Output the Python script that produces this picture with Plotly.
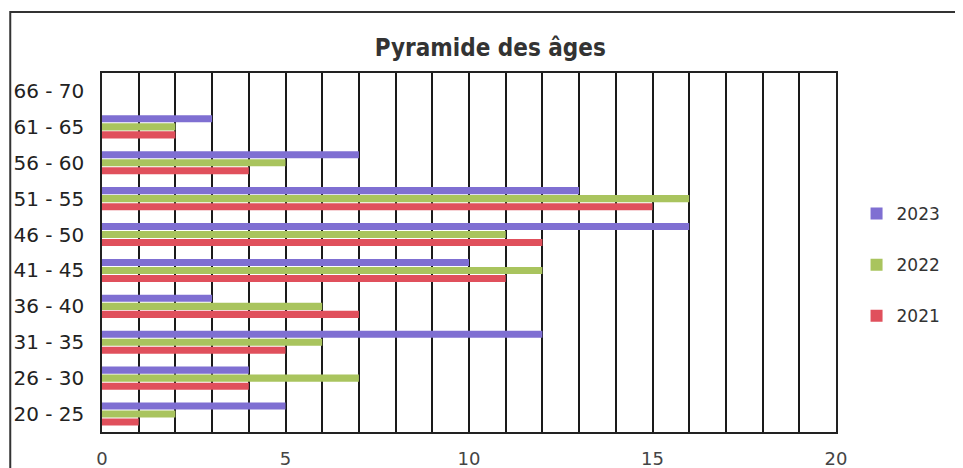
import plotly.graph_objects as go

# tranches d'âge et effectifs par année
tranches = ['20 - 25', '26 - 30', '31 - 35', '36 - 40', '41 - 45',
            '46 - 50', '51 - 55', '56 - 60', '61 - 65', '66 - 70']
annees = ['2021', '2022', '2023']
val_2021 = [1, 4, 5, 7, 11, 12, 15, 4, 2, 0]
val_2022 = [2, 7, 6, 6, 12, 11, 16, 5, 2, 0]
val_2023 = [5, 4, 12, 3, 10, 16, 13, 7, 3, 0]
x_ticks = [0, 5, 10, 15, 20]

couleurs = {'2021': '#E0505C', '2022': '#A9C45E', '2023': '#7F6FD2'}
valeurs = {'2021': val_2021, '2022': val_2022, '2023': val_2023}
rang = {'2023': 1, '2022': 2, '2021': 3}

fig = go.Figure()
for an in annees:
    fig.add_trace(go.Bar(
        y=tranches,
        x=valeurs[an],
        name=an,
        orientation='h',
        legendgroup=an,
        legendrank=rang[an],
        marker=dict(color=couleurs[an], line=dict(width=0)),
    ))

fig.update_layout(
    width=955, height=460,
    margin=dict(l=94, r=127, t=65, b=36, autoexpand=False),
    paper_bgcolor='white',
    plot_bgcolor='white',
    barmode='group',
    bargap=0.33,
    bargroupgap=0.12,
    title=dict(text='<b>Pyramide des âges</b>', x=0.505, xanchor='center',
               y=0.915, yanchor='middle',
               font=dict(family='DejaVu Sans Condensed, Roboto, sans-serif', size=24, color='#333333')),
    font=dict(family='DejaVu Sans', color='#333333'),
    legend=dict(x=1.028, y=0.465, xanchor='left', yanchor='middle',
                traceorder='grouped', tracegroupgap=26,
                font=dict(family='DejaVu Sans', size=17, color='#333333'),
                itemwidth=30),
    showlegend=True,
)

fig.update_xaxes(
    range=[0, 20],
    tickvals=x_ticks,
    ticks='',
    automargin=False,
    showgrid=True, gridcolor='#1a1a1a', gridwidth=1.5,
    showline=True, linecolor='#222222', linewidth=1.5, mirror=True,
    tickfont=dict(size=18, color='#444444'),
    ticklabelstandoff=10,
    zeroline=False,
)
fig.update_xaxes(minor=dict(dtick=1, showgrid=True, gridcolor='#1a1a1a', gridwidth=1.5))
fig.update_yaxes(
    categoryorder='array', categoryarray=tranches,
    showgrid=False,
    automargin=False,
    showline=True, linecolor='#222222', linewidth=1.5, mirror=True,
    tickfont=dict(size=20, color='#222222'),
    ticks='', ticklabelstandoff=12,
)

# cadre extérieur du graphique
fig.add_shape(type='rect', xref='paper', yref='paper',
              x0=-0.125, x1=1.2, y0=-0.3, y1=1.17,
              line=dict(color='#333333', width=2), layer='below')

fig.write_html("out.html")
